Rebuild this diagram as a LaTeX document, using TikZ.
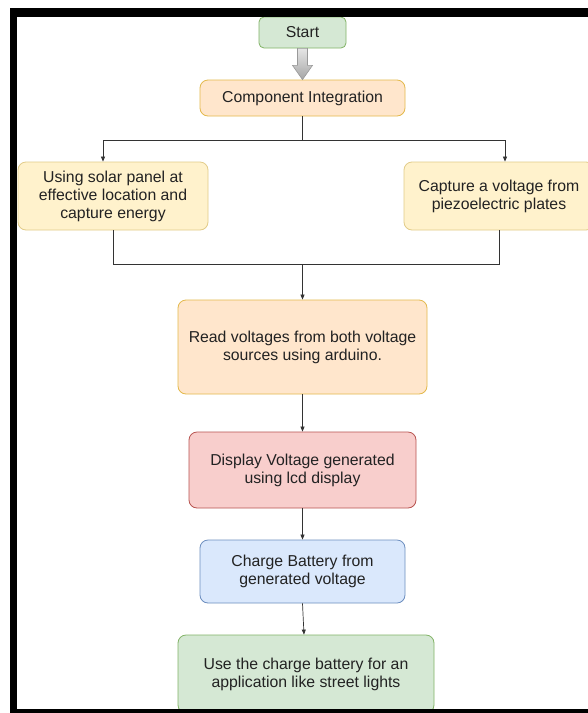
\documentclass[tikz,border=0pt]{standalone}
\usepackage{fontspec}
\setmainfont{Liberation Sans}
\usetikzlibrary{arrows.meta,calc}
\definecolor{gfill}{HTML}{D5E8D4}\definecolor{gline}{HTML}{82B366}
\definecolor{ofill}{HTML}{FFE6CC}\definecolor{oline}{HTML}{D79B00}
\definecolor{yfill}{HTML}{FFF2CC}\definecolor{yline}{HTML}{D6B656}
\definecolor{rfill}{HTML}{F8CECC}\definecolor{rline}{HTML}{B85450}
\definecolor{bfill}{HTML}{DAE8FC}\definecolor{bline}{HTML}{6C8EBF}
\definecolor{txt}{HTML}{222222}
\definecolor{conn}{HTML}{333333}
\begin{document}
\begin{tikzpicture}[x=1pt,y=-1pt,
  box/.style={draw,line width=0.8pt,rounded corners=8pt,align=center,text=txt,
    font=\fontsize{15.8}{18}\selectfont,inner sep=2pt},
  gbox/.style={box,fill=gfill,draw=gline},
  obox/.style={box,fill=ofill,draw=oline!70},
  ybox/.style={box,fill=yfill,draw=yline!70},
  rbox/.style={box,fill=rfill,draw=rline},
  bbox/.style={box,fill=bfill,draw=bline},
  conn/.style={draw=conn,line width=0.7pt},
  arr/.style={conn,-{Triangle[length=5pt,width=4pt]}}]
\useasboundingbox (0,0) rectangle (588,713);
\fill[white] (0,0) rectangle (588,713);
\node[gbox,rounded corners=5pt,minimum width=87pt,minimum height=31pt] (start) at (302.5,32.5) {Start};
\node[obox,minimum width=205pt,minimum height=36pt] (ci) at (302.5,98) {Component Integration};
\node[ybox,minimum width=190pt,minimum height=68pt] (solar) at (113,196) {Using solar panel at\\effective location and\\capture energy};
\node[ybox,minimum width=190pt,minimum height=68pt] (piezo) at (499,196) {Capture a voltage from\\piezoelectric plates};
\node[obox,minimum width=249pt,minimum height=94pt] (read) at (302.5,347) {Read voltages from both voltage\\sources using arduino.};
\node[rbox,minimum width=227pt,minimum height=76pt] (disp) at (302.5,470) {Display Voltage generated\\using lcd display};
\node[bbox,minimum width=205pt,minimum height=63pt] (charge) at (302.5,571.5) {Charge Battery from\\generated voltage};
\node[gbox,minimum width=256pt,minimum height=78pt] (use) at (306,674) {Use the charge battery for an\\application like street lights};
% block arrow
\draw[draw=black!40,top color=black!10,bottom color=black!35,line width=0.6pt]
  ($(start.south)+(-5,0)$) -- ($(start.south)+(5,0)$) -- ($(start.south)+(5,17)$)
  -- ($(start.south)+(10,17)$) -- (ci.north) -- ($(start.south)+(-10,17)$)
  -- ($(start.south)+(-5,17)$) -- cycle;
% connectors
\coordinate (split) at ($(ci.south)+(0,24)$);
\draw[conn] (ci.south) -- (split);
\draw[arr] (split) -| ([xshift=-10pt]solar.north);
\draw[arr] (split) -| ([xshift=6pt]piezo.north);
\coordinate (join) at ($(read.north)+(0,-35)$);
\draw[conn] (solar.south) |- (join);
\draw[conn] (piezo.south) |- (join);
\draw[arr] (join) -- (read.north);
\draw[arr] (read.south) -- (disp.north);
\draw[arr] (disp.south) -- (charge.north);
\draw[arr] (charge.south) -- ([xshift=-2pt]use.north);
% frame
\fill[black] (10,8) rectangle (588,17);
\fill[black] (10,8) rectangle (17,713);
\fill[black] (10,709) rectangle (588,713);
\end{tikzpicture}
\end{document}
